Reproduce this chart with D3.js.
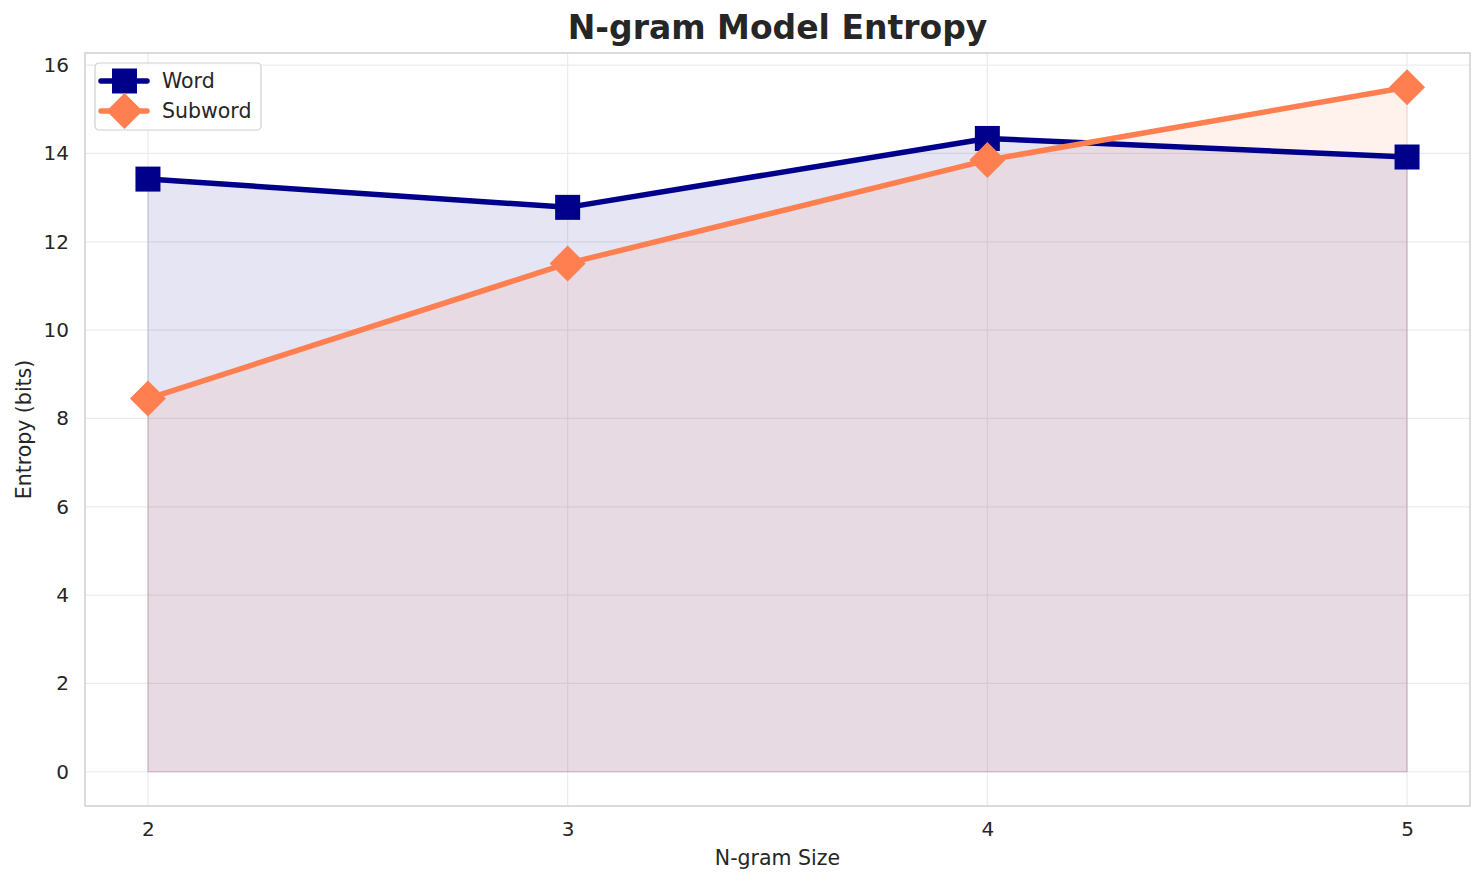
<!DOCTYPE html>
<html>
<head>
<meta charset="utf-8">
<script src="https://cdn.jsdelivr.net/npm/d3@7"></script>
<style>
  body { margin: 0; background: #fff; }
  svg { font-family: "DejaVu Sans", sans-serif; }
</style>
</head>
<body>
<svg id="chart" width="1484" height="885"></svg>
<script>
// Donnees
const ngramSizes = [2, 3, 4, 5];
const wordEntropy = [13.42, 12.78, 14.34, 13.92];
const subwordEntropy = [8.45, 11.51, 13.85, 15.5];
const yTicks = [0, 2, 4, 6, 8, 10, 12, 14, 16];

const series = [
  { name: "Word", values: wordEntropy, color: "#00008b", marker: "square" },
  { name: "Subword", values: subwordEntropy, color: "#ff7f50", marker: "diamond" }
];

const width = 1484, height = 885;
const margin = { left: 85, right: 14, top: 53, bottom: 79 };

const svg = d3.select("#chart");

const x = d3.scaleLinear()
  .domain([1.85, 5.15])
  .range([margin.left, width - margin.right]);

const y = d3.scaleLinear()
  .domain([-0.775, 16.275])
  .range([height - margin.bottom, margin.top]);

// grille
const grid = svg.append("g");
grid.selectAll(".gx")
  .data(ngramSizes)
  .join("line")
  .attr("x1", d => x(d)).attr("x2", d => x(d))
  .attr("y1", margin.top).attr("y2", height - margin.bottom)
  .attr("stroke", "#ebebeb").attr("stroke-width", 1.2);
grid.selectAll(".gy")
  .data(yTicks)
  .join("line")
  .attr("x1", margin.left).attr("x2", width - margin.right)
  .attr("y1", d => y(d)).attr("y2", d => y(d))
  .attr("stroke", "#ebebeb").attr("stroke-width", 1.2);

// aires
const area = d3.area()
  .x((d, i) => x(ngramSizes[i]))
  .y0(y(0))
  .y1(d => y(d));

series.forEach(s => {
  svg.append("path")
    .datum(s.values)
    .attr("d", area)
    .attr("fill", s.color)
    .attr("fill-opacity", 0.1)
    .attr("stroke", s.color)
    .attr("stroke-opacity", 0.12)
    .attr("stroke-width", 1.5);
});

// lignes + marqueurs
const line = d3.line()
  .x((d, i) => x(ngramSizes[i]))
  .y(d => y(d));

function drawMarker(g, type, cx, cy, color) {
  if (type === "square") {
    g.append("rect")
      .attr("x", cx - 12.5).attr("y", cy - 12.5)
      .attr("width", 25).attr("height", 25)
      .attr("fill", color);
  } else {
    const r = 18;
    g.append("path")
      .attr("d", `M${cx},${cy - r}L${cx + r},${cy}L${cx},${cy + r}L${cx - r},${cy}Z`)
      .attr("fill", color);
  }
}

series.forEach(s => {
  svg.append("path")
    .datum(s.values)
    .attr("d", line)
    .attr("fill", "none")
    .attr("stroke", s.color)
    .attr("stroke-width", 5.5)
    .attr("stroke-linejoin", "round")
    .attr("stroke-linecap", "round");
  const g = svg.append("g");
  s.values.forEach((v, i) => drawMarker(g, s.marker, x(ngramSizes[i]), y(v), s.color));
});

// cadre
svg.append("rect")
  .attr("x", margin.left).attr("y", margin.top)
  .attr("width", width - margin.left - margin.right)
  .attr("height", height - margin.top - margin.bottom)
  .attr("fill", "none")
  .attr("stroke", "#d0d0d0")
  .attr("stroke-width", 1.5);

// axes
const xAxis = svg.append("g")
  .attr("transform", `translate(0,${height - margin.bottom})`)
  .call(d3.axisBottom(x).tickValues(ngramSizes).tickFormat(d3.format("d")).tickSize(0).tickPadding(16));
const yAxis = svg.append("g")
  .attr("transform", `translate(${margin.left},0)`)
  .call(d3.axisLeft(y).tickValues(yTicks).tickFormat(d3.format("d")).tickSize(0).tickPadding(16));
[xAxis, yAxis].forEach(a => {
  a.attr("font-size", 20).attr("font-family", "DejaVu Sans, sans-serif");
  a.select(".domain").remove();
  a.selectAll("text")
    .attr("fill", "#262626");
});

svg.append("text")
  .attr("x", x(3.5)).attr("y", 865)
  .attr("text-anchor", "middle")
  .attr("font-size", 20.5).attr("fill", "#262626")
  .text("N-gram Size");

svg.append("text")
  .attr("transform", `translate(31,${y(7.75)}) rotate(-90)`)
  .attr("text-anchor", "middle")
  .attr("font-size", 20.5).attr("fill", "#262626")
  .text("Entropy (bits)");

svg.append("text")
  .attr("x", x(3.5)).attr("y", 39)
  .attr("text-anchor", "middle")
  .attr("font-size", 33).attr("font-weight", "bold").attr("fill", "#262626")
  .text("N-gram Model Entropy");

// legende
const legend = svg.append("g").attr("transform", "translate(95,63)");
legend.append("rect")
  .attr("width", 166).attr("height", 67)
  .attr("rx", 4)
  .attr("fill", "#fff").attr("fill-opacity", 0.8)
  .attr("stroke", "#d0d0d0").attr("stroke-width", 1.2);
series.forEach((s, i) => {
  const ly = 18 + i * 30;
  legend.append("line")
    .attr("x1", 6).attr("x2", 52)
    .attr("y1", ly).attr("y2", ly)
    .attr("stroke", s.color).attr("stroke-width", 5.5)
    .attr("stroke-linecap", "round");
  drawMarker(legend, s.marker, 29.5, ly, s.color);
  legend.append("text")
    .attr("x", 67).attr("y", ly + 7)
    .attr("font-size", 20.5).attr("fill", "#262626")
    .text(s.name);
});
</script>
</body>
</html>
